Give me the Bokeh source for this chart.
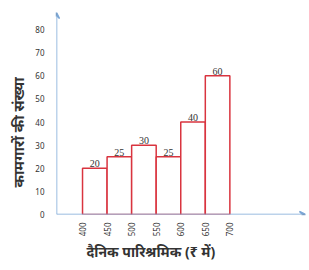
import math
from bokeh.plotting import figure
from bokeh.models import Arrow, VeeHead, FixedTicker, ColumnDataSource, LabelSet, Title
from bokeh.embed import file_html
from bokeh.resources import INLINE

edges = [400, 450, 500, 550, 600, 650, 700]
counts = [20, 25, 30, 25, 40, 60]
count_labels = ["20", "25", "30", "25", "40", "60"]
y_ticks = [0, 10, 20, 30, 40, 50, 60, 70, 80]
x_title = "दैनिक पारिश्रमिक  (₹ में)"
y_title = "कामगारों की संख्या"

FONT = "Noto Sans"
AXIS_COLOR = "#7aa6d6"
BAR_COLOR = "#d9343f"
TEXT_COLOR = "#333333"

x0, x1 = 347, 854
y0, y1 = 0, 87.4

p = figure(width=309, height=270, output_backend="svg", toolbar_location=None,
           x_range=(x0, x1), y_range=(y0, y1),
           min_border_left=55, min_border_right=4, min_border_top=12, min_border_bottom=56)
p.outline_line_color = None
p.grid.visible = False
p.background_fill_color = "white"

src = ColumnDataSource(dict(
    left=edges[:-1], right=edges[1:], top=counts,
    mid=[(a + b) / 2 for a, b in zip(edges[:-1], edges[1:])],
    lab=count_labels,
))
p.quad(left="left", right="right", bottom=0, top="top", source=src,
       fill_color="white", line_color=BAR_COLOR, line_width=1.5)
p.add_layout(LabelSet(x="mid", y="top", text="lab", source=src, text_align="center",
                      text_baseline="bottom", y_offset=1, text_font_size="10px",
                      text_color=TEXT_COLOR, text_font=FONT))

# axes
p.xaxis.ticker = FixedTicker(ticks=edges)
p.yaxis.ticker = FixedTicker(ticks=y_ticks)
p.xaxis.major_label_orientation = math.pi / 2
for ax in (p.xaxis, p.yaxis):
    ax.axis_line_color = None
    ax.major_tick_line_color = None
    ax.minor_tick_line_color = None
    ax.major_label_text_font_size = "8px"
    ax.major_label_text_color = TEXT_COLOR
    ax.major_label_text_font = FONT
p.xaxis.major_label_standoff = 2
p.yaxis.major_label_standoff = 6

p.add_layout(Arrow(x_start=x0, y_start=0, x_end=x1, y_end=0, line_color=AXIS_COLOR, line_width=1.5,
                   end=VeeHead(size=6, line_color=AXIS_COLOR, line_width=1.5)))
p.add_layout(Arrow(x_start=x0, y_start=0, x_end=x0, y_end=y1, line_color=AXIS_COLOR, line_width=1.5,
                   end=VeeHead(size=6, line_color=AXIS_COLOR, line_width=1.5)))

p.add_layout(Title(text=x_title, align="left", offset=30, standoff=0,
                   text_font_size="14px", text_font_style="bold", text_color=TEXT_COLOR,
                   text_font=FONT), "below")
p.add_layout(Title(text=y_title, align="left", offset=27, standoff=10,
                   text_font_size="15px", text_font_style="bold", text_color=TEXT_COLOR,
                   text_font=FONT), "left")

open("out.html", "w").write(file_html(p, INLINE))
